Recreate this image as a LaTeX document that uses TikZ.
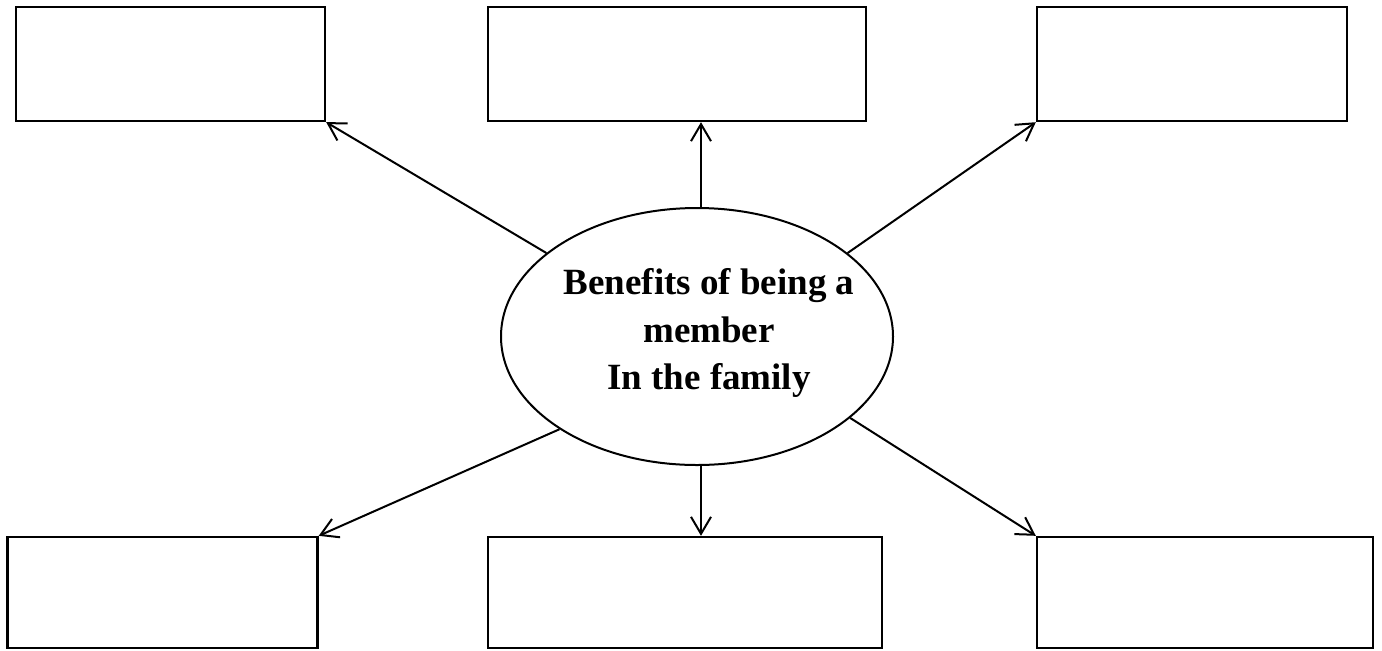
\documentclass[tikz,border=0pt]{standalone}
\usepackage{fontspec}
\setmainfont{Liberation Serif}
\usetikzlibrary{shapes.geometric}
\usetikzlibrary{arrows.meta}

\begin{document}
\begin{tikzpicture}[x=0.5pt,y=-0.5pt,
blank/.style={draw, line width=1.2pt, inner sep=0pt, minimum height=57pt},
spoke/.style={line width=1pt, -{Straight Barb[length=8.5pt,width=10pt,line width=1pt]}}]
\useasboundingbox (0,0) rectangle (1382,650);
\node[blank, minimum width=154.5pt] (tl) at (170.5,64) {};
\node[blank, minimum width=189pt]   (tm) at (677,64) {};
\node[blank, minimum width=155pt]   (tr) at (1192,64) {};
\node[blank, minimum width=155pt, minimum height=55.5pt] (bl) at (162.5,592.5) {};
\node[blank, minimum width=197pt, minimum height=55.5pt] (bm) at (685,592.5) {};
\node[blank, minimum width=168pt, minimum height=55.5pt] (br) at (1205,592.5) {};
\node[draw, ellipse, line width=1pt, inner sep=0pt,
minimum width=196pt, minimum height=128.5pt] (hub) at (697,336.5) {};
\node[font=\fontsize{18.5}{23.75}\selectfont\bfseries, align=center]
(hubtext) at (709,333) {Benefits of being a\\member\\In the family};
\draw[spoke] (hub.151) -- (tl.south east);
\draw[spoke] ([xshift=2pt]hub.north) -- ([xshift=2pt]hub.north |- tm.south);
\draw[spoke] (hub.29) -- (tr.south west);
\draw[spoke] (hub.214) -- (bl.north east);
\draw[spoke] ([xshift=2pt]hub.south) -- ([xshift=2pt]hub.south |- bm.north);
\draw[spoke] (hub.332) -- (br.north west);
\end{tikzpicture}
\end{document}
